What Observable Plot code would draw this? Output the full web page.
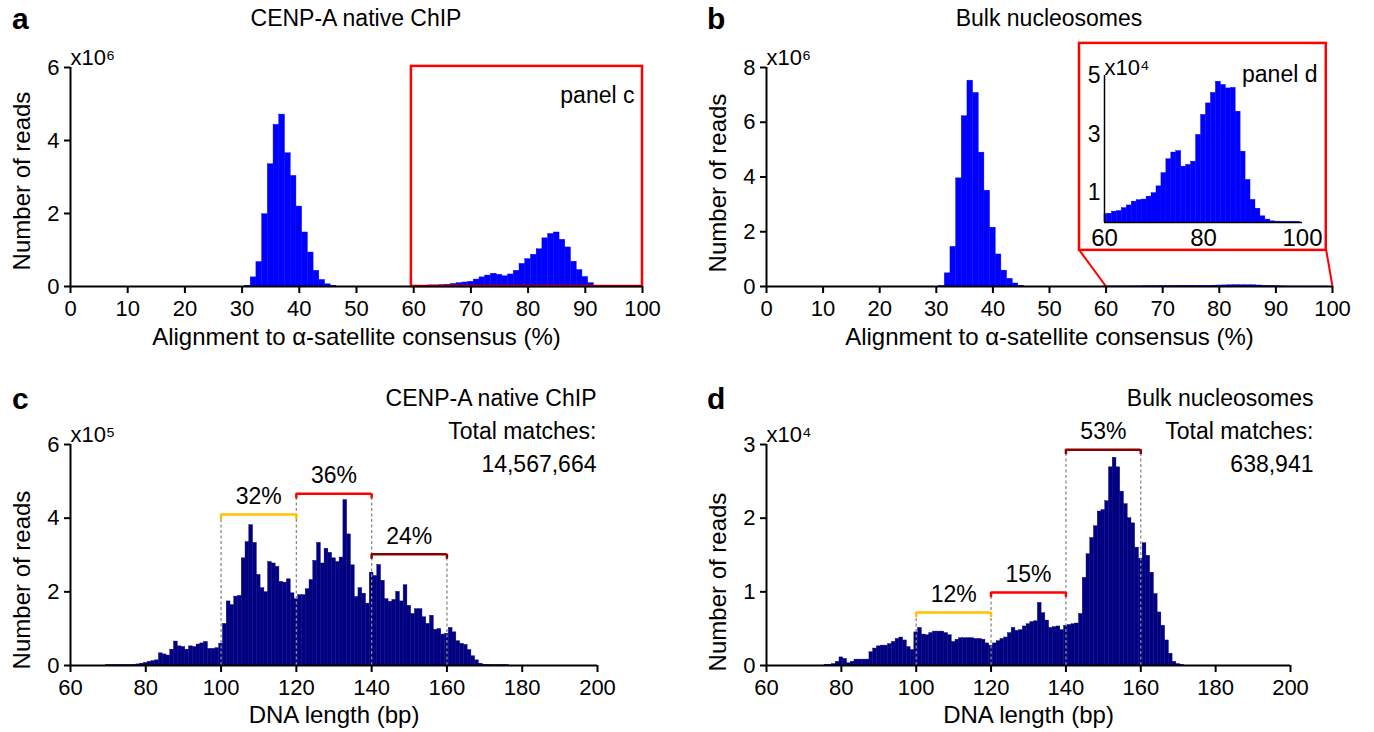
<!DOCTYPE html>
<html><head><meta charset="utf-8">
<script src="https://cdn.jsdelivr.net/npm/d3@7"></script>
<script src="https://cdn.jsdelivr.net/npm/@observablehq/plot@0.6"></script>
<style>
body{margin:0;background:#fff;font-family:"Liberation Sans",Arial,Helvetica,sans-serif;}
#fig{position:relative;width:1374px;height:732px;overflow:hidden;background:#fff;}
.letter{position:absolute;font-weight:bold;font-size:30px;line-height:1;color:#000;}
.title{position:absolute;font-size:23px;line-height:1;transform:translateX(-50%);white-space:nowrap;color:#000;}
</style></head><body><div id="fig"></div>
<script>
// ---------------- data ----------------
// Panel a: CENP-A native ChIP, alignment (%) vs reads (x10^6)
const pctA = [31,32,33,34,35,36,37,38,39,40,41,42,43,44,45,46,
  60,61,62,63,64,65,66,67,68,69,70,71,72,73,74,75,76,77,78,79,80,81,82,83,84,85,86,87,88,89,90,91,92];
const readsA = [0.02,0.25,0.67,1.98,3.35,4.43,4.71,3.65,3.03,2.19,1.48,0.93,0.43,0.18,0.06,0.02,
  0.01,0.02,0.02,0.03,0.03,0.04,0.05,0.07,0.09,0.11,
  0.13,0.19,0.25,0.30,0.35,0.32,0.28,0.33,0.43,0.62,
  0.75,0.87,1.02,1.32,1.44,1.48,1.28,1.07,0.68,0.45,
  0.26,0.09,0.02];
// Panel b: bulk nucleosomes (x10^6)
const pctB = [31,32,33,34,35,36,37,38,39,40,41,42,43,44,45];
const readsB = [0.02,0.48,1.45,3.95,6.22,7.52,7.07,4.89,3.50,2.15,1.17,0.58,0.28,0.11,0.03];
// Panel b inset (panel d region), reads x10^4
const pctInset = [60,61,62,63,64,65,66,67,68,69,70,71,72,73,74,75,76,77,78,79,
  80,81,82,83,84,85,86,87,88,89,90,91,92,93,94,95,96,97,98,99];
const readsInset = [0.28,0.30,0.37,0.39,0.49,0.58,0.71,0.76,0.78,0.88,
  1.00,1.23,1.68,2.15,2.38,2.43,1.90,1.96,2.07,2.98,
  3.66,4.05,4.41,4.79,4.68,4.56,4.58,3.77,2.41,1.45,
  0.77,0.47,0.21,0.10,0.04,0.03,0.02,0.02,0.02,0.02];
// Panel c: DNA length (bp) from 70 to 176, reads x10^5
const firstLenC = 70;
const readsC = [
  0.01,0.01,0.01,0.01,0.01,0.01,0.01,0.02,0.03,0.05,
  0.07,0.10,0.12,0.14,0.33,0.30,0.27,0.43,0.65,0.52,
  0.50,0.43,0.52,0.50,0.57,0.60,0.64,0.45,0.45,0.47,
  0.59,1.13,1.74,1.64,1.87,1.89,2.91,3.35,3.81,3.33,
  2.46,2.10,1.99,2.81,2.77,2.68,2.27,2.25,2.34,1.96,
  1.80,1.91,1.91,2.07,2.32,2.84,3.33,2.77,3.17,3.06,
  2.91,2.81,2.93,4.49,3.56,2.72,1.86,2.10,1.95,1.68,
  2.52,2.43,2.73,2.30,1.80,1.73,1.78,2.00,1.74,2.18,
  1.62,1.40,1.53,1.53,1.31,1.13,1.35,0.97,0.99,0.84,
  0.86,1.02,0.90,0.66,0.59,0.56,0.42,0.25,0.14,0.05,
  0.02,0.02,0.01,0.01,0.01,0.01,0.01];
// Panel d: DNA length (bp) from 76 to 171, reads x10^4
const firstLenD = 76;
const readsD = [
  0.01,0.01,0.02,0.05,
  0.11,0.09,0.03,0.05,0.08,0.08,0.08,0.08,0.18,0.23,
  0.26,0.27,0.27,0.29,0.32,0.36,0.38,0.34,0.25,0.21,
  0.45,0.51,0.42,0.41,0.44,0.46,0.46,0.46,0.44,0.41,
  0.32,0.35,0.37,0.37,0.37,0.37,0.36,0.36,0.35,0.30,
  0.27,0.30,0.33,0.36,0.38,0.44,0.51,0.47,0.48,0.53,
  0.56,0.59,0.60,0.85,0.71,0.61,0.51,0.52,0.53,0.48,
  0.54,0.55,0.56,0.57,0.70,1.19,1.51,1.73,1.89,2.09,
  2.11,2.23,2.69,2.82,2.69,2.36,2.19,2.00,1.93,1.60,
  1.45,1.66,1.49,1.26,0.97,0.72,0.54,0.34,0.16,0.05,
  0.02,0.01];
// Length-class brackets
const bracketsC = [
  {from:100, to:120, level:4.10, label:"32%"},
  {from:120, to:140, level:4.66, label:"36%"},
  {from:140, to:160, level:3.02, label:"24%"}];
const bracketsD = [
  {from:100, to:120, level:0.72, label:"12%"},
  {from:120, to:140, level:0.99, label:"15%"},
  {from:140, to:160, level:2.93, label:"53%"}];
const infoC = ["CENP-A native ChIP", "Total matches:", "14,567,664"];
const infoD = ["Bulk nucleosomes", "Total matches:", "638,941"];
// zoom boxes (data units of their panels)
const zoomBoxA = [{x1:59.6, x2:100, y1:0, y2:6.03}];
const zoomBoxB = [{x1:55.3, x2:98.9, y1:1.32, y2:8.88}];
const zoomLinksB = [{x1:55.3, y1:1.32, x2:60, y2:0}, {x1:98.9, y1:1.32, x2:100, y2:0}];
// ticks
const ticksAlign = [0,10,20,30,40,50,60,70,80,90,100];
const ticksLen = [60,80,100,120,140,160,180,200];
const ticksYA = [0,2,4,6], ticksYB = [0,2,4,6,8], ticksYC = [0,2,4,6], ticksYD = [0,1,2,3];
const ticksInsetX = [60,80,100], ticksInsetY = [1,3,5];

// ---------------- styles ----------------
const FONT = '"Liberation Sans", Arial, Helvetica, sans-serif';
const BLUE = "#0000ff", NAVY = "#000080", RED = "#ff0000";
const bracketColors = ["#ffc000", "#ff0000", "#8b0000"];
const fmt = d => `${d}`;

const fig = document.getElementById("fig");
function place(node, left, top) {
  node.style.position = "absolute"; node.style.left = left + "px"; node.style.top = top + "px";
  fig.appendChild(node);
}
function rowsOf(xs, vs) { return xs.map((x, i) => ({x, v: vs[i]})); }

function histPanel(o) {
  const fh = o.height - o.mt - o.mb;
  const marks = [
    Plot.rect(o.rows, {x1: d => Math.max(o.xDomain[0], d.x - 0.5), x2: d => d.x + 0.5, y1: 0, y2: "v",
      fill: o.color, stroke: o.color, strokeWidth: 0.4, inset: 0}),
    ...(o.extra ? o.extra(fh) : []),
    Plot.ruleY([o.yDomain[0]], {stroke: "black", strokeWidth: 2}),
    Plot.ruleX([o.xDomain[0]], {stroke: "black", strokeWidth: 2}),
    Plot.axisX({ticks: o.xTicks, tickFormat: fmt, tickSize: 7, tickPadding: 7, strokeWidth: 2, fontSize: 22, label: null}),
    Plot.axisY({ticks: o.yTicks, tickFormat: fmt, tickSize: 6, tickPadding: 5, strokeWidth: 2, fontSize: 22, label: null}),
    Plot.text([o.xLabel], {frameAnchor: "bottom", textAnchor: "middle", dy: o.xLabelDy, fontSize: 24}),
    Plot.text(["Number of reads"], {frameAnchor: "left", textAnchor: "middle", rotate: -90, dx: -48, dy: o.yLabelDy, fontSize: 24}),
    Plot.text([o.mult], {frameAnchor: "top-left", textAnchor: "start", lineAnchor: "bottom", dy: -3, fontSize: 22})
  ];
  const svg = Plot.plot({
    width: o.width, height: o.height,
    marginLeft: o.ml, marginRight: o.mr, marginTop: o.mt, marginBottom: o.mb,
    x: {domain: o.xDomain}, y: {domain: o.yDomain},
    style: {fontSize: "22px", fontFamily: FONT, color: "black", background: "none", overflow: "visible"},
    marks
  });
  place(svg, o.left, o.top);
}

function bracketMarks(brackets, yMax, fh) {
  const depth = yMax * 5 / fh;
  const rows = brackets.map((b, i) => ({...b, i, mid: (b.from + b.to) / 2}));
  const ends = rows.flatMap(b => [{x: b.from, y: b.level, i: b.i}, {x: b.to, y: b.level, i: b.i}]);
  const bounds = Array.from(new Set(rows.flatMap(b => [b.from, b.to]))).map(x => ({
    x, top: d3.max(rows.filter(b => b.from === x || b.to === x), b => b.level)}));
  return [
    Plot.ruleX(bounds, {x: "x", y1: 0, y2: "top", stroke: "#8a8a8a", strokeWidth: 1.3, strokeDasharray: "3,2.5"}),
    Plot.ruleX(ends, {x: "x", y1: "y", y2: d => d.y - depth, stroke: d => bracketColors[d.i], strokeWidth: 2.5}),
    Plot.ruleY(rows, {y: "level", x1: "from", x2: "to", stroke: d => bracketColors[d.i], strokeWidth: 2.5}),
    Plot.text(rows, {x: "mid", y: "level", text: "label", dy: -18, fontSize: 23})
  ];
}

// Panel a
histPanel({
  left: 0, top: 0, width: 687, height: 360, ml: 70, mr: 45, mt: 67, mb: 74,
  rows: rowsOf(pctA, readsA), color: BLUE,
  xDomain: [0, 100], yDomain: [0, 6], xTicks: ticksAlign, yTicks: ticksYA,
  xLabel: "Alignment to α-satellite consensus (%)", xLabelDy: 58, yLabelDy: 4, mult: "x10⁶",
  extra: () => [
    Plot.rect(zoomBoxA, {x1: "x1", x2: "x2", y1: "y1", y2: "y2", fill: "none", stroke: RED, strokeWidth: 2.5}),
    Plot.text(["panel c"], {frameAnchor: "top-right", textAnchor: "end", dx: -8, dy: 19, fontSize: 23})
  ]
});

// Panel b
histPanel({
  left: 695, top: 0, width: 679, height: 360, ml: 71, mr: 42, mt: 67, mb: 74,
  rows: rowsOf(pctB, readsB).concat(rowsOf(pctInset, readsInset.map(v => v / 100))), color: BLUE,
  xDomain: [0, 100], yDomain: [0, 8], xTicks: ticksAlign, yTicks: ticksYB,
  xLabel: "Alignment to α-satellite consensus (%)", xLabelDy: 58, yLabelDy: 6, mult: "x10⁶",
  extra: () => [
    Plot.link(zoomLinksB, {x1: "x1", y1: "y1", x2: "x2", y2: "y2", stroke: RED, strokeWidth: 2}),
    Plot.rect(zoomBoxB, {x1: "x1", x2: "x2", y1: "y1", y2: "y2", fill: "white", stroke: RED, strokeWidth: 2.5})
  ]
});

// Inset of panel b
{
  const svg = Plot.plot({
    width: 246, height: 207, marginLeft: 24, marginRight: 24, marginTop: 32, marginBottom: 28,
    x: {domain: [60, 100]}, y: {domain: [0, 5]},
    style: {fontSize: "22px", fontFamily: FONT, color: "black", background: "none", overflow: "visible"},
    marks: [
      Plot.rect(rowsOf(pctInset, readsInset), {x1: d => Math.max(60, d.x - 0.5), x2: d => d.x + 0.5, y1: 0, y2: "v",
        fill: BLUE, stroke: BLUE, strokeWidth: 0.4, inset: 0}),
      Plot.ruleY([0], {stroke: "black", strokeWidth: 1.5}),
      Plot.ruleX([60], {stroke: "black", strokeWidth: 1.5}),
      Plot.axisX({ticks: ticksInsetX, tickFormat: fmt, tickSize: 0, tickPadding: 6, fontSize: 24, label: null}),
      Plot.axisY({ticks: ticksInsetY, tickFormat: fmt, tickSize: 0, tickPadding: 4, fontSize: 23, label: null}),
      Plot.text(["x10⁴"], {frameAnchor: "top-left", textAnchor: "start", lineAnchor: "bottom", dy: -1, fontSize: 22}),
      Plot.text(["panel d"], {frameAnchor: "top-right", textAnchor: "end", dx: 15, dy: -10, fontSize: 23})
    ]
  });
  place(svg, 1080, 43);
}

// Panel c
histPanel({
  left: 0, top: 380, width: 687, height: 352, ml: 70, mr: 90, mt: 64, mb: 67,
  rows: rowsOf(readsC.map((_, i) => firstLenC + i), readsC), color: NAVY,
  xDomain: [60, 200], yDomain: [0, 6], xTicks: ticksLen, yTicks: ticksYC,
  xLabel: "DNA length (bp)", xLabelDy: 57, yLabelDy: 25, mult: "x10⁵",
  extra: (fh) => [
    ...bracketMarks(bracketsC, 6, fh),
    Plot.text([infoC.join("\n")], {frameAnchor: "top-right", textAnchor: "end", lineAnchor: "top", lineHeight: 1.43, dx: -1, dy: -62, fontSize: 23})
  ]
});

// Panel d
histPanel({
  left: 695, top: 380, width: 679, height: 352, ml: 71, mr: 84, mt: 64, mb: 67,
  rows: rowsOf(readsD.map((_, i) => firstLenD + i), readsD), color: NAVY,
  xDomain: [60, 200], yDomain: [0, 3], xTicks: ticksLen, yTicks: ticksYD,
  xLabel: "DNA length (bp)", xLabelDy: 57, yLabelDy: 27, mult: "x10⁴",
  extra: (fh) => [
    ...bracketMarks(bracketsD, 3, fh),
    Plot.text([infoD.join("\n")], {frameAnchor: "top-right", textAnchor: "end", lineAnchor: "top", lineHeight: 1.43, dx: 23, dy: -62, fontSize: 23})
  ]
});

// Panel letters and titles
const labels = [
  {cls: "letter", text: "a", left: 12, top: 4},
  {cls: "letter", text: "b", left: 707, top: 4},
  {cls: "letter", text: "c", left: 12, top: 384},
  {cls: "letter", text: "d", left: 707, top: 384},
  {cls: "title", text: "CENP-A native ChIP", left: 356, top: 7},
  {cls: "title", text: "Bulk nucleosomes", left: 1049, top: 7}
];
for (const l of labels) {
  const div = document.createElement("div");
  div.className = l.cls; div.textContent = l.text;
  div.style.left = l.left + "px"; div.style.top = l.top + "px";
  fig.appendChild(div);
}
</script></body></html>
